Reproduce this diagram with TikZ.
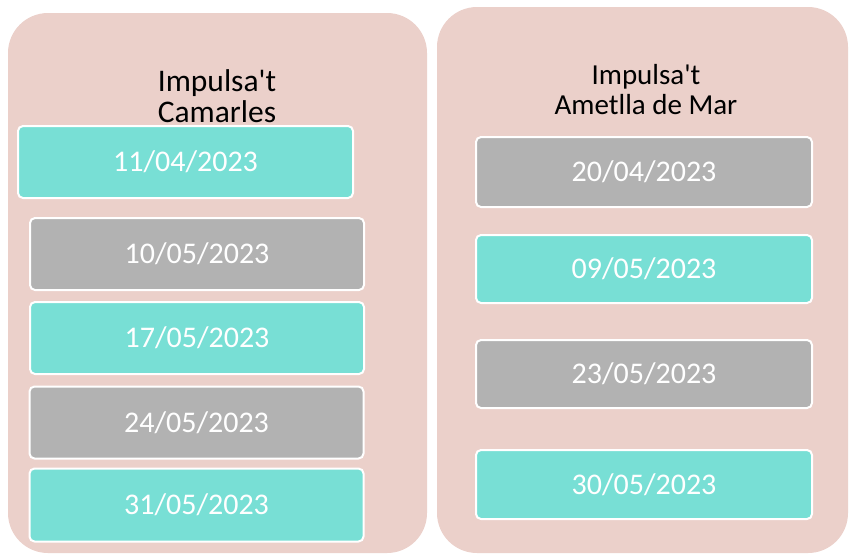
\documentclass[tikz,border=0pt]{standalone}
\usepackage{fontspec}
\setmainfont{Carlito}
\definecolor{panelpink}{RGB}{235,208,202}
\definecolor{teal}{RGB}{120,223,213}
\definecolor{greybox}{RGB}{178,178,178}
\begin{document}
\begin{tikzpicture}[x=1pt,y=-1pt,
  panel/.style={rectangle,rounded corners=40pt,fill=panelpink,draw=none,inner sep=0pt},
  datebox/.style={rectangle,rounded corners=5pt,draw=white,line width=2pt,inner sep=0pt,
    text=white,font=\fontsize{30}{32}\selectfont},
  tealbox/.style={datebox,fill=teal},
  greybox/.style={datebox,fill=greybox},
  title/.style={align=center,inner sep=0pt,text=black}]
\useasboundingbox (0,0) rectangle (850,555);
\node[panel,minimum width=419pt,minimum height=540pt] (pl) at (217.5,283) {};
\node[panel,minimum width=411pt,minimum height=546pt] (pr) at (642.5,280) {};
\node[title,font=\fontsize{31.5}{31}\selectfont] (tl) at (217,96) {Impulsa\textquotesingle t\\Camarles};
\node[title,font=\fontsize{29}{30}\selectfont] (tr) at (646,90) {Impulsa\textquotesingle t\\Ametlla de Mar};
\node[tealbox,minimum width=335pt,minimum height=72pt] (l1) at (185.5,162) {11/04/2023};
\node[greybox,minimum width=334pt,minimum height=72pt] (l2) at (197,254) {10/05/2023};
\node[tealbox,minimum width=334pt,minimum height=72pt] (l3) at (197,338) {17/05/2023};
\node[greybox,minimum width=334pt,minimum height=72pt] (l4) at (196.5,422.5) {24/05/2023};
\node[tealbox,minimum width=334pt,minimum height=73pt] (l5) at (196.5,505) {31/05/2023};
\node[greybox,minimum width=336pt,minimum height=70pt] (r1) at (644,172) {20/04/2023};
\node[tealbox,minimum width=336pt,minimum height=68pt] (r2) at (644,269) {09/05/2023};
\node[greybox,minimum width=336pt,minimum height=68pt] (r3) at (644,374) {23/05/2023};
\node[tealbox,minimum width=336pt,minimum height=69pt] (r4) at (644,484.5) {30/05/2023};
\end{tikzpicture}
\end{document}
